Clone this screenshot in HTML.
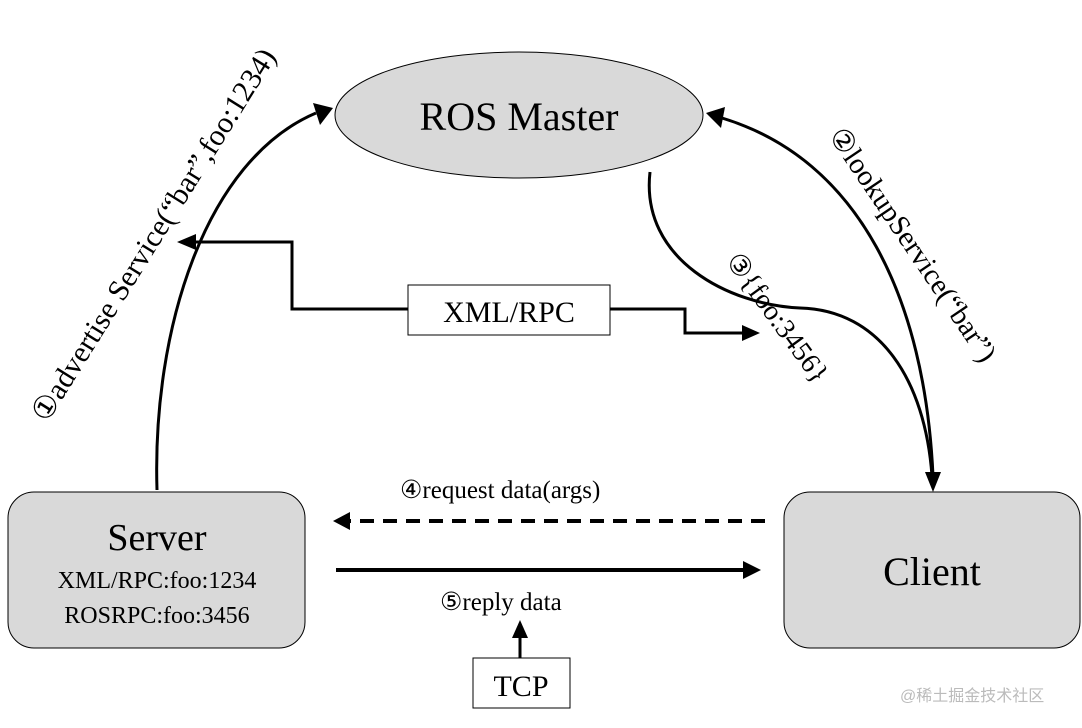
<!DOCTYPE html>
<html><head><meta charset="utf-8"><style>
html,body{margin:0;padding:0;background:#fff;}
svg{display:block;}
svg text{font-family:"Liberation Serif","DejaVu Serif","Times New Roman",serif;}
svg text.wm{font-family:"Liberation Sans","Noto Sans CJK SC",sans-serif;}
</style></head><body>
<svg width="1082" height="728" viewBox="0 0 1082 728" xmlns="http://www.w3.org/2000/svg">
<ellipse cx="519" cy="115" rx="184" ry="63" fill="#d9d9d9" stroke="#000" stroke-width="1"/>
<text x="519" y="130" font-size="40" text-anchor="middle">ROS Master</text>
<rect x="8" y="492" width="297" height="156" rx="26" fill="#d9d9d9" stroke="#000" stroke-width="1"/>
<text x="157" y="550" font-size="38" text-anchor="middle">Server</text>
<text x="157" y="588" font-size="24" text-anchor="middle">XML/RPC:foo:1234</text>
<text x="157" y="623" font-size="24" text-anchor="middle">ROSRPC:foo:3456</text>
<rect x="784" y="492" width="296" height="156" rx="26" fill="#d9d9d9" stroke="#000" stroke-width="1"/>
<text x="932" y="585" font-size="40" text-anchor="middle">Client</text>
<path d="M157,490 C152,330 205,160 316,113" fill="none" stroke="#000" stroke-width="3"/>
<polygon points="333,108 313,103 320,125" fill="#000"/>
<polyline points="408,309 292,309 292,242 192,242" fill="none" stroke="#000" stroke-width="3"/>
<polygon points="177,242 196,234 196,250" fill="#000"/>
<rect x="408" y="285" width="202" height="50" fill="#fff" stroke="#000" stroke-width="1"/>
<text x="509" y="322" font-size="30" text-anchor="middle">XML/RPC</text>
<polyline points="610,309 685,309 685,333 745,333" fill="none" stroke="#000" stroke-width="3"/>
<polygon points="760,333 742,325 742,341" fill="#000"/>
<path d="M933,476 C925,300 860,160 722,118" fill="none" stroke="#000" stroke-width="3"/>
<polygon points="706,113 725,107 721,128" fill="#000"/>
<path d="M650,172 C640,260 730,305 800,308 C880,310 925,380 932,476" fill="none" stroke="#000" stroke-width="3"/>
<polygon points="933,492 925,472 941,472" fill="#000"/>
<line x1="765" y1="521" x2="348" y2="521" stroke="#000" stroke-width="4" stroke-dasharray="14,9"/>
<polygon points="333,521 350,512 350,530" fill="#000"/>
<line x1="336" y1="570" x2="745" y2="570" stroke="#000" stroke-width="4"/>
<polygon points="761,570 743,561 743,579" fill="#000"/>
<rect x="473" y="658" width="97" height="50" fill="#fff" stroke="#000" stroke-width="1"/>
<text x="521" y="696" font-size="30" text-anchor="middle">TCP</text>
<line x1="520" y1="658" x2="520" y2="636" stroke="#000" stroke-width="3"/>
<polygon points="520,620 512,638 528,638" fill="#000"/>
<text x="400" y="498" font-size="25">④request data(args)</text>
<text x="440" y="610" font-size="25">⑤reply data</text>
<text transform="translate(162,240) rotate(-58)" font-size="30" text-anchor="middle">①advertise Service(“bar”,foo:1234)</text>
<text transform="translate(905,250) rotate(56)" font-size="29" text-anchor="middle">②lookupService(“bar”)</text>
<text transform="translate(770,323) rotate(54)" font-size="28" text-anchor="middle">③{foo:3456}</text>
<text class="wm" x="900" y="701" font-size="16" fill="#bbb">@稀土掘金技术社区</text>
</svg>
</body></html>
